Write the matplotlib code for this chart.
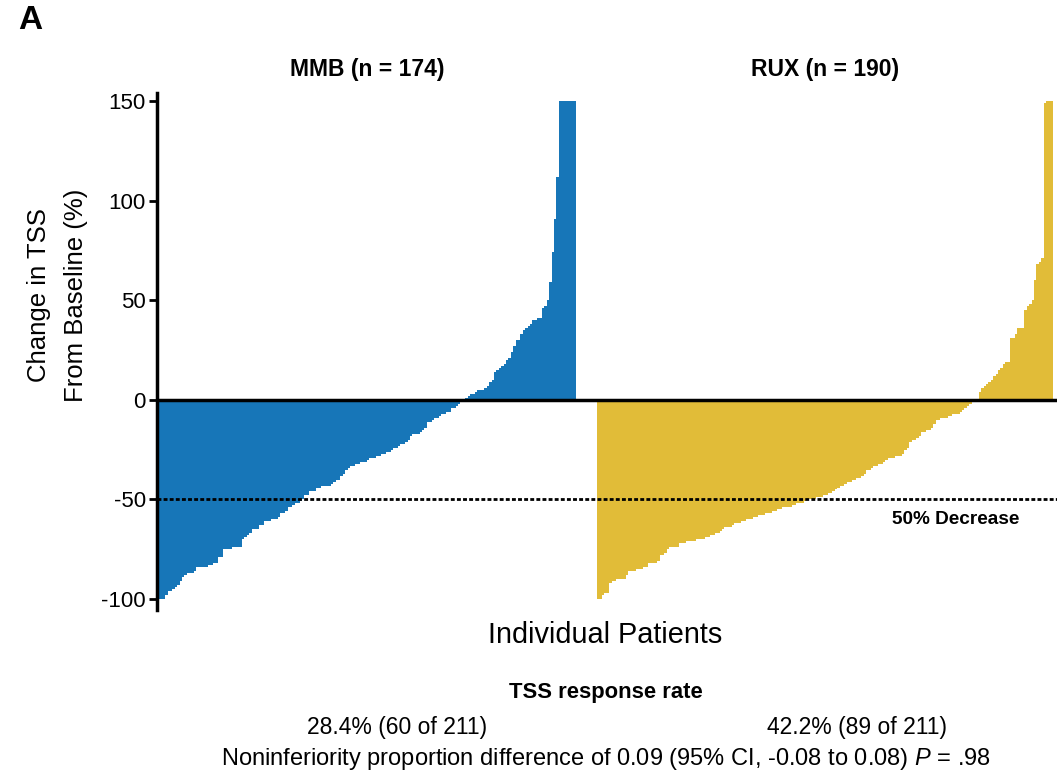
import matplotlib
matplotlib.use("Agg")
import matplotlib.pyplot as plt
import numpy as np

# waterfall of change in TSS, one bar per patient, sorted
mmb_values = [
    -100, -100, -100, -98, -96, -96, -95, -94, -93, -91,
    -89, -88, -87, -87, -87, -86, -84, -84, -84, -84,
    -84, -83, -83, -82, -82, -79, -79, -75, -75, -75,
    -75, -74, -74, -74, -74, -70, -69, -68, -67, -65,
    -65, -65, -63, -63, -61, -61, -61, -60, -60, -60,
    -59, -57, -57, -56, -54, -54, -53, -52, -52, -51,
    -50, -48, -48, -46, -46, -46, -44, -44, -43, -43,
    -43, -43, -42, -41, -40, -40, -38, -37, -35, -34,
    -33, -33, -32, -32, -31, -31, -31, -30, -29, -29,
    -29, -28, -28, -27, -27, -26, -26, -25, -24, -24,
    -23, -22, -22, -21, -20, -18, -17, -17, -17, -16,
    -15, -14, -11, -11, -10, -9, -9, -8, -7, -7,
    -6, -6, -4, -4, -3, -2, -1, 0, 1, 2,
    3, 3, 4, 5, 5, 5, 6, 7, 9, 10,
    14, 15, 16, 17, 18, 20, 21, 24, 27, 30,
    30, 33, 35, 36, 37, 38, 40, 40, 41, 41,
    46, 47, 50, 59, 74, 91, 112, 150, 150, 150,
    150, 150, 150, 150,
]
rux_values = [
    -100, -100, -98, -97, -97, -92, -91, -91, -90, -90,
    -90, -90, -88, -86, -86, -86, -85, -85, -85, -84,
    -84, -82, -82, -82, -82, -81, -78, -78, -77, -75,
    -74, -74, -74, -74, -72, -72, -72, -71, -71, -71,
    -71, -70, -70, -70, -70, -69, -69, -68, -68, -67,
    -67, -66, -65, -64, -64, -64, -63, -62, -62, -62,
    -61, -61, -60, -60, -60, -59, -59, -58, -58, -58,
    -57, -57, -57, -56, -56, -55, -55, -54, -54, -54,
    -54, -53, -53, -52, -52, -52, -51, -50, -50, -50,
    -50, -49, -49, -49, -48, -48, -47, -47, -46, -45,
    -44, -43, -43, -42, -41, -41, -40, -40, -39, -39,
    -38, -37, -35, -35, -34, -33, -33, -32, -32, -31,
    -30, -29, -29, -29, -28, -28, -28, -27, -25, -24,
    -21, -20, -20, -19, -18, -16, -16, -15, -15, -14,
    -12, -10, -10, -9, -9, -9, -8, -8, -7, -7,
    -7, -6, -5, -4, -3, -2, -1, -1, 0, 4,
    6, 7, 8, 9, 10, 12, 13, 15, 16, 18,
    19, 19, 31, 31, 33, 36, 36, 36, 45, 47,
    48, 50, 60, 68, 69, 71, 149, 150, 150, 150,
]
groups = ["MMB (n = 174)", "RUX (n = 190)"]
rates = ["28.4% (60 of 211)", "42.2% (89 of 211)"]
yticks = [-100, -50, 0, 50, 100, 150]

plt.rcParams["font.family"] = ["Liberation Sans", "DejaVu Sans"]
plt.rcParams["axes.unicode_minus"] = False
plt.rcParams["mathtext.fontset"] = "custom"
plt.rcParams["mathtext.rm"] = "Liberation Sans"
plt.rcParams["mathtext.it"] = "Liberation Sans:italic"

blue = "#1776b8"
gold = "#e1bc38"

fig = plt.figure(figsize=(10.63, 7.72), dpi=100)
ax = fig.add_axes([0.1477, 0.2098, 0.8467, 0.6697])

gap = 183  # RUX bars start after a small gap
x_mmb = np.arange(len(mmb_values))
x_rux = np.arange(len(rux_values)) + gap
ax.bar(x_mmb, mmb_values, width=1.0, color=blue, linewidth=0)
ax.bar(x_rux, rux_values, width=1.0, color=gold, linewidth=0)

ax.axhline(0, color="black", lw=2.5, zorder=3)
ax.axhline(-50, color="black", lw=2, ls=(0, (1.4, 0.8)), zorder=3)

ax.set_xlim(-0.9, 374.1)
ax.set_ylim(-105.5, 154)
ax.set_yticks(yticks)
ax.set_xticks([])
for s in ["top", "right", "bottom"]:
    ax.spines[s].set_visible(False)
ax.spines["left"].set_linewidth(2.5)
ax.tick_params(axis="y", direction="out", length=6, width=2, labelsize=16, pad=2)

fig.text(0.054, 0.618, "Change in TSS\nFrom Baseline (%)", rotation=90,
         fontsize=18.5, linespacing=1.7, ha="center", va="center")

# group titles over each set of bars
ax.text(np.mean(x_mmb), 1.045, groups[0], transform=ax.get_xaxis_transform(),
        ha="center", va="center", fontsize=16.5, fontweight="bold")
ax.text(np.mean(x_rux), 1.045, groups[1], transform=ax.get_xaxis_transform(),
        ha="center", va="center", fontsize=16.5, fontweight="bold")

ax.text(332, -60, "50% Decrease", ha="center", va="center", fontsize=13.7,
        fontweight="bold")

fig.text(0.017, 0.974, "A", fontsize=24, fontweight="bold", va="center")
fig.text(0.569, 0.177, "Individual Patients", fontsize=20.8,
         ha="center", va="center")
fig.text(0.570, 0.1036, "TSS response rate", fontsize=15.8,
         fontweight="bold", ha="center", va="center")
fig.text(0.3735, 0.057, rates[0], fontsize=16.5, ha="center", va="center")
fig.text(0.806, 0.057, rates[1], fontsize=16.5, ha="center", va="center")
fig.text(0.5696, 0.0165,
         "Noninferiority proportion difference of 0.09 (95% CI, -0.08 to 0.08) $P$ = .98",
         fontsize=17, ha="center", va="center")

fig.savefig("out.png", dpi=100)
